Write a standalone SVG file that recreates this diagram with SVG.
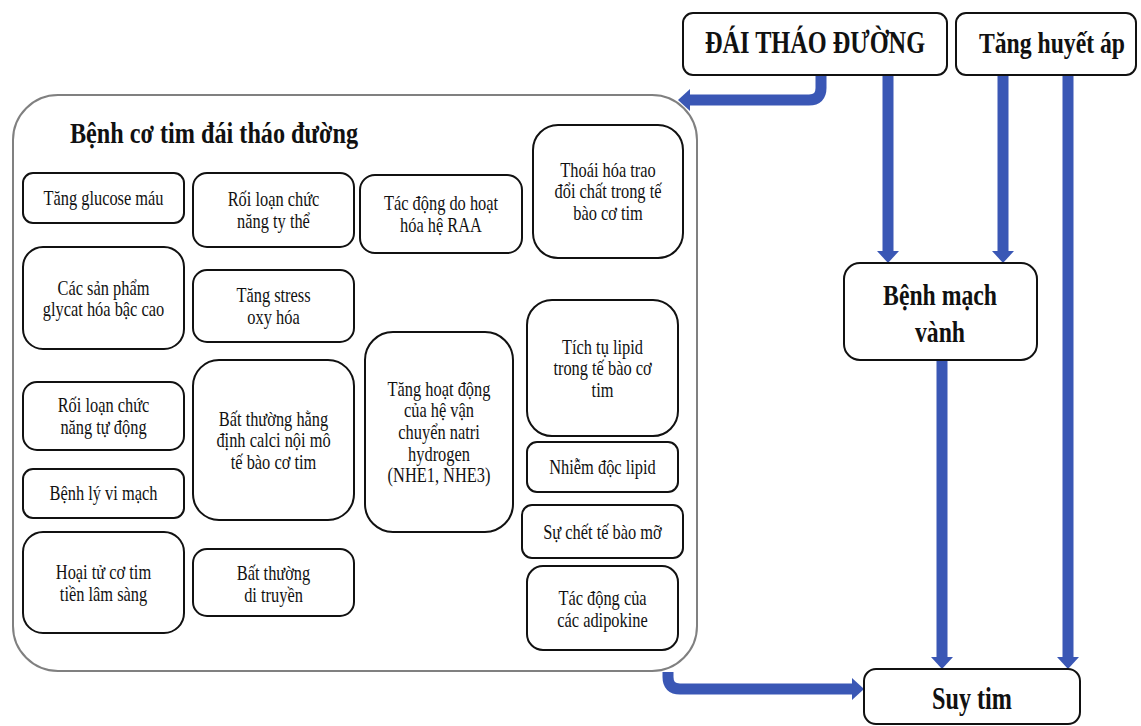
<svg xmlns="http://www.w3.org/2000/svg" width="1141" height="726" viewBox="0 0 1141 726">
<defs>
<style>
.box{fill:#fff;stroke:#111;stroke-width:2}
.cont{fill:#fff;stroke:#808080;stroke-width:2}
.t{font-family:"Liberation Serif","Times New Roman",serif;font-size:20px;fill:#111;text-anchor:middle}
.b{font-family:"Liberation Serif","Times New Roman",serif;font-weight:bold;fill:#111;text-anchor:middle}
.arr{fill:none;stroke:#3a57b5;stroke-width:11}
</style>
<marker id="ah" viewBox="0 0 12 22" refX="0" refY="11" markerWidth="12" markerHeight="22" markerUnits="userSpaceOnUse" orient="auto">
<path d="M0,0 L12,11 L0,22 Z" fill="#3a57b5"/>
</marker>
</defs>
<rect width="1141" height="726" fill="#fff"/>

<g id="container">
<rect class="cont" x="13" y="95" width="684" height="576" rx="45"/>
<g transform="translate(214 0) scale(0.835 1)"><text class="b" y="143" font-size="29">Bệnh cơ tim đái tháo đường</text></g>
</g>

<g id="connectors">
<path class="arr" d="M821 75 V88 Q821 100 809 100 H690" marker-end="url(#ah)"/>
<path class="arr" d="M888 75 V251" marker-end="url(#ah)"/>
<path class="arr" d="M1003 75 V251" marker-end="url(#ah)"/>
<path class="arr" d="M1068 75 V657" marker-end="url(#ah)"/>
<path class="arr" d="M942 360 V657" marker-end="url(#ah)"/>
<path class="arr" d="M668 672 V677 Q668 689 680 689 H852" marker-end="url(#ah)"/>
</g>

<g id="n-dtd">
<rect class="box" x="683" y="13" width="264" height="62" rx="10"/>
<g transform="translate(815 0) scale(0.76 1)"><text class="b" y="53" font-size="32">ĐÁI THÁO ĐƯỜNG</text></g>
</g>
<g id="n-tha">
<rect class="box" x="956" y="13" width="180" height="62" rx="10"/>
<g transform="translate(1052 0) scale(0.79 1)"><text class="b" y="53" font-size="30">Tăng huyết áp</text></g>
</g>
<g id="n-bmv">
<rect class="box" x="844" y="263" width="193" height="97" rx="16"/>
<g transform="translate(940 0) scale(0.79 1)"><text class="b" y="305" font-size="30">Bệnh mạch</text><text class="b" y="342" font-size="30">vành</text></g>
</g>
<g id="n-suytim">
<rect class="box" x="864" y="669" width="216" height="55" rx="12"/>
<g transform="translate(972 0) scale(0.78 1)"><text class="b" y="709" font-size="31">Suy tim</text></g>
</g>

<g id="n-glucose">
<rect class="box" x="23" y="173" width="161" height="50" rx="10"/>
<g transform="translate(103.5 0) scale(0.82 1)"><text class="t" y="205">Tăng glucose máu</text></g>
</g>
<g id="n-tythe">
<rect class="box" x="193" y="173" width="161" height="74" rx="14"/>
<g transform="translate(273.5 0) scale(0.82 1)"><text class="t" y="206">Rối loạn chức</text><text class="t" y="228">năng ty thể</text></g>
</g>
<g id="n-raa">
<rect class="box" x="360" y="175" width="162" height="78" rx="15"/>
<g transform="translate(441 0) scale(0.82 1)"><text class="t" y="210">Tác động do hoạt</text><text class="t" y="232">hóa hệ RAA</text></g>
</g>
<g id="n-thoaihoa">
<rect class="box" x="533" y="125" width="150" height="133" rx="25"/>
<g transform="translate(608 0) scale(0.82 1)"><text class="t" y="177">Thoái hóa trao</text><text class="t" y="198">đổi chất trong tế</text><text class="t" y="220">bào cơ tim</text></g>
</g>
<g id="n-glycat">
<rect class="box" x="23" y="247" width="161" height="102" rx="20"/>
<g transform="translate(103.5 0) scale(0.82 1)"><text class="t" y="295">Các sản phẩm</text><text class="t" y="316">glycat hóa bậc cao</text></g>
</g>
<g id="n-stress">
<rect class="box" x="193" y="270" width="161" height="72" rx="14"/>
<g transform="translate(273.5 0) scale(0.82 1)"><text class="t" y="302">Tăng stress</text><text class="t" y="324">oxy hóa</text></g>
</g>
<g id="n-tudong">
<rect class="box" x="23" y="382" width="161" height="68" rx="14"/>
<g transform="translate(103.5 0) scale(0.82 1)"><text class="t" y="412">Rối loạn chức</text><text class="t" y="434">năng tự động</text></g>
</g>
<g id="n-vimach">
<rect class="box" x="23" y="469" width="161" height="49" rx="10"/>
<g transform="translate(103.5 0) scale(0.82 1)"><text class="t" y="500">Bệnh lý vi mạch</text></g>
</g>
<g id="n-hoaitu">
<rect class="box" x="23" y="532" width="161" height="101" rx="20"/>
<g transform="translate(103.5 0) scale(0.82 1)"><text class="t" y="579">Hoại tử cơ tim</text><text class="t" y="601">tiền lâm sàng</text></g>
</g>
<g id="n-calci">
<rect class="box" x="193" y="360" width="161" height="160" rx="26"/>
<g transform="translate(273.5 0) scale(0.82 1)"><text class="t" y="426">Bất thường hằng</text><text class="t" y="447">định calci nội mô</text><text class="t" y="469">tế bào cơ tim</text></g>
</g>
<g id="n-ditruyen">
<rect class="box" x="193" y="549" width="161" height="67" rx="14"/>
<g transform="translate(273.5 0) scale(0.82 1)"><text class="t" y="580">Bất thường</text><text class="t" y="602">di truyền</text></g>
</g>
<g id="n-nhe">
<rect class="box" x="365" y="332" width="148" height="200" rx="28"/>
<g transform="translate(439 0) scale(0.82 1)"><text class="t" y="396">Tăng hoạt động</text><text class="t" y="417">của hệ vận</text><text class="t" y="439">chuyển natri</text><text class="t" y="461">hydrogen</text><text class="t" y="482">(NHE1, NHE3)</text></g>
</g>
<g id="n-tichtu">
<rect class="box" x="527" y="300" width="151" height="136" rx="25"/>
<g transform="translate(602.5 0) scale(0.82 1)"><text class="t" y="354">Tích tụ lipid</text><text class="t" y="375">trong tế bào cơ</text><text class="t" y="397">tim</text></g>
</g>
<g id="n-nhiemdoc">
<rect class="box" x="527" y="442" width="151" height="50" rx="10"/>
<g transform="translate(602.5 0) scale(0.82 1)"><text class="t" y="474">Nhiễm độc lipid</text></g>
</g>
<g id="n-suchet">
<rect class="box" x="522" y="505" width="161" height="53" rx="10"/>
<g transform="translate(602.5 0) scale(0.82 1)"><text class="t" y="539">Sự chết tế bào mỡ</text></g>
</g>
<g id="n-adipokine">
<rect class="box" x="527" y="566" width="151" height="84" rx="16"/>
<g transform="translate(602.5 0) scale(0.82 1)"><text class="t" y="605">Tác động của</text><text class="t" y="627">các adipokine</text></g>
</g>
</svg>
